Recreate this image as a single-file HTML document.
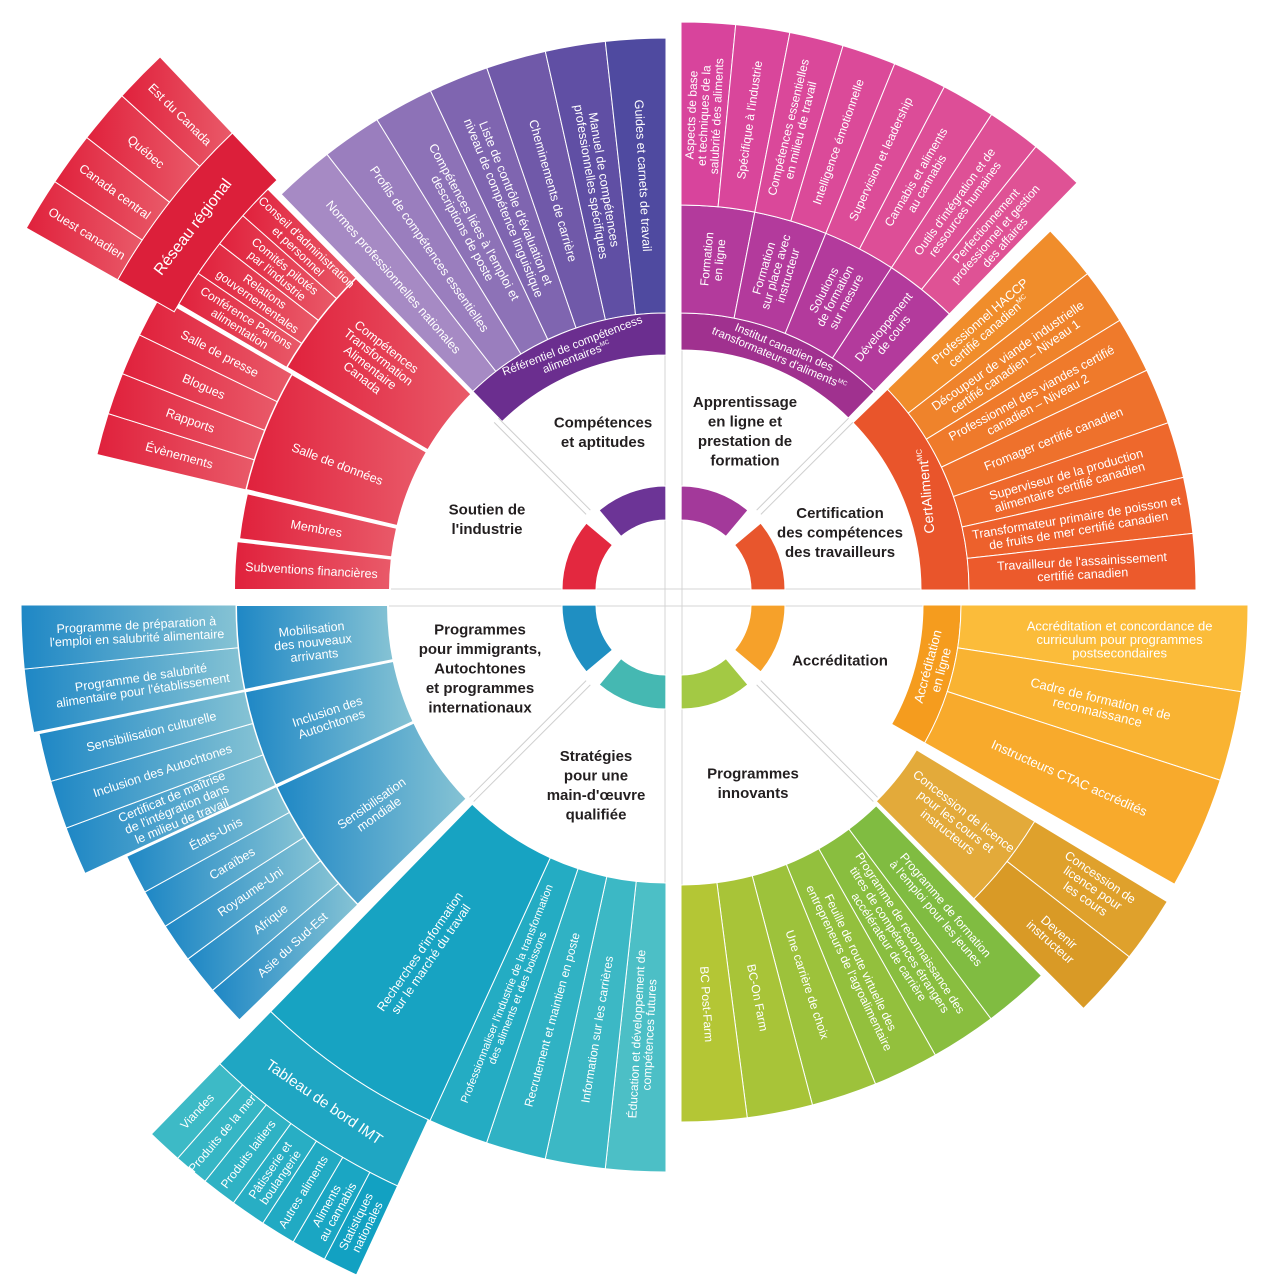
<!DOCTYPE html>
<html><head><meta charset="utf-8">
<style>
html,body{margin:0;padding:0;background:#fff;}
svg{display:block;font-family:"Liberation Sans",sans-serif;}
</style></head>
<body>
<svg id="s" xmlns="http://www.w3.org/2000/svg" width="1282" height="1282" viewBox="0 0 1282 1282">
<defs>
<linearGradient id="gr" x1="0" y1="0" x2="1" y2="0"><stop offset="0" stop-color="#e0213c"/><stop offset="1" stop-color="#e95a69"/></linearGradient>
<linearGradient id="gb" x1="0" y1="0" x2="1" y2="0"><stop offset="0" stop-color="#1e87c5"/><stop offset="1" stop-color="#86c3d4"/></linearGradient>
</defs>
<g stroke="#d4d4d4" stroke-width="1">
<line x1="380" y1="589" x2="960" y2="589"/><line x1="380" y1="606" x2="960" y2="606"/>
<line x1="665" y1="300" x2="665" y2="890"/><line x1="682" y1="300" x2="682" y2="890"/>
</g>
</svg>
<script>
const svg=document.getElementById('s'),NS='http://www.w3.org/2000/svg';
function P(c,r,a){const t=a*Math.PI/180;return [c[0]+r*Math.sin(t),c[1]-r*Math.cos(t)];}
function wedge(c,r0,r1,a0,a1,fill,sw){
 const p1=P(c,r1,a0),p2=P(c,r1,a1),p3=P(c,r0,a1),p4=P(c,r0,a0);
 const L=(a1-a0)>180?1:0;
 const e=document.createElementNS(NS,'path');
 e.setAttribute('d',`M${p1[0]},${p1[1]} A${r1},${r1} 0 ${L} 1 ${p2[0]},${p2[1]} L${p3[0]},${p3[1]} A${r0},${r0} 0 ${L} 0 ${p4[0]},${p4[1]}Z`);
 e.setAttribute('fill',fill);e.setAttribute('stroke','#fff');e.setAttribute('stroke-width',sw||1);
 svg.appendChild(e);
}
function txt(x,y,rot,lines,o){
 o=o||{};const fs=o.fs||12.5,lh=o.lh||fs*1.05;
 const t=document.createElementNS(NS,'text');
 if(rot)t.setAttribute('transform',`rotate(${rot} ${x} ${y})`);
 t.setAttribute('font-size',fs);t.setAttribute('fill',o.fill||'#fff');t.setAttribute('text-anchor','middle');
 if(o.bold)t.setAttribute('font-weight','bold');
 lines.forEach((ln,i)=>{
  const ts=document.createElementNS(NS,'tspan');
  ts.setAttribute('x',x);ts.setAttribute('y',y+(i-(lines.length-1)/2)*lh+fs*0.35);
  let mc=false;if(ln.endsWith('^MC')){ln=ln.slice(0,-3);mc=true;}
  ts.appendChild(document.createTextNode(ln));t.appendChild(ts);
  if(mc){const s=document.createElementNS(NS,'tspan');s.setAttribute('font-size',fs*0.55);s.setAttribute('dy',-fs*0.4);s.appendChild(document.createTextNode('MC'));t.appendChild(s);
   const z=document.createElementNS(NS,'tspan');z.setAttribute('dy',fs*0.4);z.appendChild(document.createTextNode(''));t.appendChild(z);}
 });
 svg.appendChild(t);
}
function label(c,r,a,lines,o){
 o=o||{};const [x,y]=P(c,r,a);
 let rot=o.rot!==undefined?o.rot:(o.t?((a>90&&a<270)?a-180:a):(a<180?a-90:a-270));
 txt(x,y,rot,lines,o);
}
function slices(c,r0,r1,a0,a1,cols,labs,lr,o){
 const n=labs.length,w=(a1-a0)/n;
 for(let i=0;i<n;i++){wedge(c,r0,r1,a0+i*w,a0+(i+1)*w,Array.isArray(cols)?cols[i]:cols,o&&o.sw);}
 for(let i=0;i<n;i++){label(c,lr,a0+(i+0.5)*w,labs[i],o);}
}
const TL=[666,590],TR=[681,590],BR=[681,605],BL=[666,605];

// S1 Compétences
slices(TL,277,552,315.8,360,['#a68ac4','#9a7ebe','#8d72b7','#7f65b0','#7059a9','#604fa4','#4f4aa0'],[
 ["Normes professionnelles nationales"],["Profils de compétences essentielles"],
 ["Compétences liées à l'emploi et","descriptions de poste"],
 ["Liste de contrôle d'évaluation et","niveau de compétence linguistique"],
 ["Cheminements de carrière"],["Manuel de compétences","professionnelles spécifiques"],["Guides et carnets de travail"]],415,{fs:12.5});
wedge(TL,235,277,315.8,360,'#6b2e8f');
label(TL,256,339,["Référentiel de compétencess","alimentaires^MC"],{t:1,fs:11.5});

// S2 Apprentissage
wedge(TR,240,277,0,44.2,'#a0318f');
label(TR,258,23,["Institut canadien des","transformateurs d'aliments^MC"],{t:1,fs:11.5});
slices(TR,277,385,0,44.2,'#b33a9c',[["Formation","en ligne"],["Formation","sur place avec","instructeur"],["Solutions","de formation","sur mesure"],["Développement","de cours"]],332,{fs:12});
slices(TR,385,568,0,44.2,['#d8449c','#d9469b','#da489a','#db4a99','#dc4c98','#dd4e97','#de5096','#df5295'],[
 ["Aspects de base","et techniques de la","salubrité des aliments"],["Spécifique à l'industrie"],
 ["Compétences essentielles","en milieu de travail"],["Intelligence émotionnelle"],["Supervision et leadership"],
 ["Cannabis et aliments","au cannabis"],["Outils d'intégration et de","ressources humaines"],
 ["Perfectionnement","professionnel et gestion","des affaires"]],475,{fs:12});

// S3 Certification
wedge(TR,240,288,45.8,90,'#e9552b');
label(TR,264,68,["CertAliment^MC"],{rot:-95,fs:14});
slices(TR,288,515,45.8,90,['#f08d2b','#ef832b','#ef7a2b','#ee712c','#ee682c','#ed612c','#ec5a2c'],[
 ["Professionnel HACCP","certifié canadien^MC"],["Découpeur de viande industrielle","certifié canadien – Niveau 1"],
 ["Professionnel des viandes certifié","canadien – Niveau 2"],["Fromager certifié canadien"],
 ["Superviseur de la production","alimentaire certifié canadien"],
 ["Transformateur primaire de poisson et","de fruits de mer certifié canadien"],
 ["Travailleur de l'assainissement","certifié canadien"]],402,{fs:12.5});

// S4 Accréditation
wedge(BR,242,280,90,119.5,'#f59c1e');
label(BR,261,104,["Accréditation","en ligne"],{rot:-75,fs:13});
wedge(BR,280,567,90,98.8,'#fbbc3a');wedge(BR,280,567,98.8,108,'#f9b332');wedge(BR,280,567,108,119.5,'#f8aa2c');
label(BR,440,94.5,["Accréditation et concordance de","curriculum pour programmes","postsecondaires"],{rot:0,fs:13});
label(BR,430,103.5,["Cadre de formation et de","reconnaissance"],{rot:13.5,fs:13});
label(BR,425,114,["Instructeurs CTAC accrédités"],{rot:24,fs:13});
const G=[684,609];
wedge(G,272,410,121.2,135,'#e3aa3a');
label(G,345,128,["Concession de licence","pour les cours et","instructeurs"],{fs:12.5});
wedge(G,410,565,121.2,128,'#dfa12c');wedge(G,410,565,128,135,'#d99a26');
label(G,495,124.3,["Concession de","licence pour","les cours"],{fs:12.5});
label(G,495,131.5,["Devenir","instructeur"],{fs:12.5});

// S5 Programmes innovants
slices(BR,280,517,135.8,180,['#80bc41','#89be3f','#93c03d','#9dc23b','#a8c438','#b4c635'],[
 ["Programme de formation","à l'emploi pour les jeunes"],
 ["Programme de reconnaissance des","titres de compétences étrangers","accélérateur de carrière"],
 ["Feuille de route virtuelle des","entrepreneurs de l'agroalimentaire"],["Une carrière de choix"],["BC-On Farm"],["BC Post-Farm"]],400,{fs:12});

// S6 Stratégies
const tc=['#4cbfc6','#3cb8c5','#30b2c4','#24acc3'];
const tl=[["Éducation et développement de","compétences futures"],["Information sur les carrières"],["Recrutement et maintien en poste"],["Professionnaliser l'industrie de la transformation","des aliments et des boissons"]];
for(let i=0;i<4;i++){const a0=180+i*6.15;wedge(BL,278,567,a0,a0+6.15,tc[i]);}
wedge(BL,278,567,204.6,224.2,'#17a3c2');
for(let i=0;i<4;i++){label(BL,i==3?420:430,180+(i+0.5)*6.15,tl[i],{fs:i==3?11:12});}
label(BL,425,214.5,["Recherches d'information","sur le marché du travail"],{fs:12.5});
wedge(BL,567,640,204.8,224.2,'#1fa6c3');
label(BL,603,214.5,["Tableau de bord IMT"],{t:1,fs:15});
slices(BL,640,738,204.8,224.2,['#3dbac6','#36b6c5','#2fb2c4','#28aec4','#21aac3','#1aa6c3','#12a1c2'].reverse(),[
 ["Viandes"],["Produits de la mer"],["Produits laitiers"],["Pâtisserie et","boulangerie"],["Autres aliments"],["Aliments","au cannabis"],["Statistiques","nationales"]].reverse(),690,{fs:12});

// S7 Immigrants
wedge(BL,278,430,258.6,270,'url(#gb)',2);label(BL,355,264,["Mobilisation","des nouveaux","arrivants"],{fs:12.5});
wedge(BL,278,430,245.2,258.4,'url(#gb)',2);label(BL,355,251.5,["Inclusion des","Autochtones"],{fs:12.5});
wedge(BL,278,430,225.8,245,'url(#gb)',2);label(BL,355,235,["Sensibilisation","mondiale"],{fs:12.5});
slices(BL,430,645,258.6,270,'url(#gb)',[["Programme de salubrité","alimentaire pour l'établissement"],["Programme de préparation à","l'emploi en salubrité alimentaire"]],530,{fs:12.5});
slices(BL,430,640,245.2,258.4,'url(#gb)',[["Certificat de maîtrise","de l'intégration dans","le milieu de travail"],["Inclusion des Autochtones"],["Sensibilisation culturelle"]],530,{fs:12.5});
slices(BL,430,595,225.8,245,'url(#gb)',[["Asie du Sud-Est"],["Afrique"],["Royaume-Uni"],["Caraïbes"],["États-Unis"]],505,{fs:12.5});

// S8 Soutien
wedge(TL,276,432,270,276.5,'url(#gr)',2);label(TL,355,273.2,["Subventions financières"],{fs:12.5});
wedge(TL,276,430,276.8,283,'url(#gr)',2);label(TL,355,280,["Membres"],{fs:12.5});
wedge(TL,276,432,283.4,300,'url(#gr)',2);label(TL,352,291,["Salle de données"],{fs:12.5});
slices(TL,432,585,283.4,300,'url(#gr)',[["Évènements"],["Rapports"],["Blogues"],["Salle de presse"]],505,{fs:12.5});
wedge(TL,276,440,300.4,315.2,'url(#gr)',2);label(TL,370,308,["Compétences","Transformation","Alimentaire","Canada"],{fs:12.5});
slices(TL,440,565,300.4,315.2,'url(#gr)',[["Conférence Parlons","alimentation"],["Relations","gouvernementales"],["Comités pilotés","par l'industrie"],["Conseil d'administration","et personnel"]],500,{fs:12});
wedge(TL,565,630,299.5,316.5,'#dc1f3a');
label(TL,597,307.5,["Réseau régional"],{t:1,fs:16});
slices(TL,630,735,299.5,316.5,'url(#gr)',[["Ouest canadien"],["Canada central"],["Québec"],["Est du Canada"]],680,{fs:12.5});

// inner ring
wedge(TL,70,104,320,359.9,'#6c3496');wedge(TR,70,104,0.1,40,'#a3399a');
wedge(TR,70,104,50,89.9,'#e8562d');wedge(BR,70,104,90.1,130,'#f6a12a');
wedge(BR,70,104,140,179.9,'#a3c944');wedge(BL,70,104,180.1,220,'#45b8b2');
wedge(BL,70,104,230,269.9,'#1f8fc2');wedge(TL,70,104,270.1,310,'#e3283f');

// gray diagonal lines
function gl(c,a,r0,r1){for(const off of [-3,3]){const t=a*Math.PI/180,nx=Math.cos(t)*off,ny=Math.sin(t)*off;
 const p=P(c,r0,a),q=P(c,r1,a);const l=document.createElementNS(NS,'line');
 l.setAttribute('x1',p[0]+nx);l.setAttribute('y1',p[1]+ny);l.setAttribute('x2',q[0]+nx);l.setAttribute('y2',q[1]+ny);
 l.setAttribute('stroke','#cfcfcf');l.setAttribute('stroke-width',1);svg.appendChild(l);}}
gl(TL,315,110,240);gl(TR,45,110,240);gl(BR,135,110,275);gl(BL,225,110,275);

// category labels
const B={bold:1,fill:'#231f20',fs:15,lh:19.5};
txt(603,432,0,["Compétences","et aptitudes"],B);
txt(745,431,0,["Apprentissage","en ligne et","prestation de","formation"],B);
txt(840,532,0,["Certification","des compétences","des travailleurs"],B);
txt(840,660,0,["Accréditation"],B);
txt(753,783,0,["Programmes","innovants"],B);
txt(596,785,0,["Stratégies","pour une","main-d'œuvre","qualifiée"],B);
txt(480,668,0,["Programmes","pour immigrants,","Autochtones","et programmes","internationaux"],B);
txt(487,519,0,["Soutien de","l'industrie"],B);
</script>
</body></html>
